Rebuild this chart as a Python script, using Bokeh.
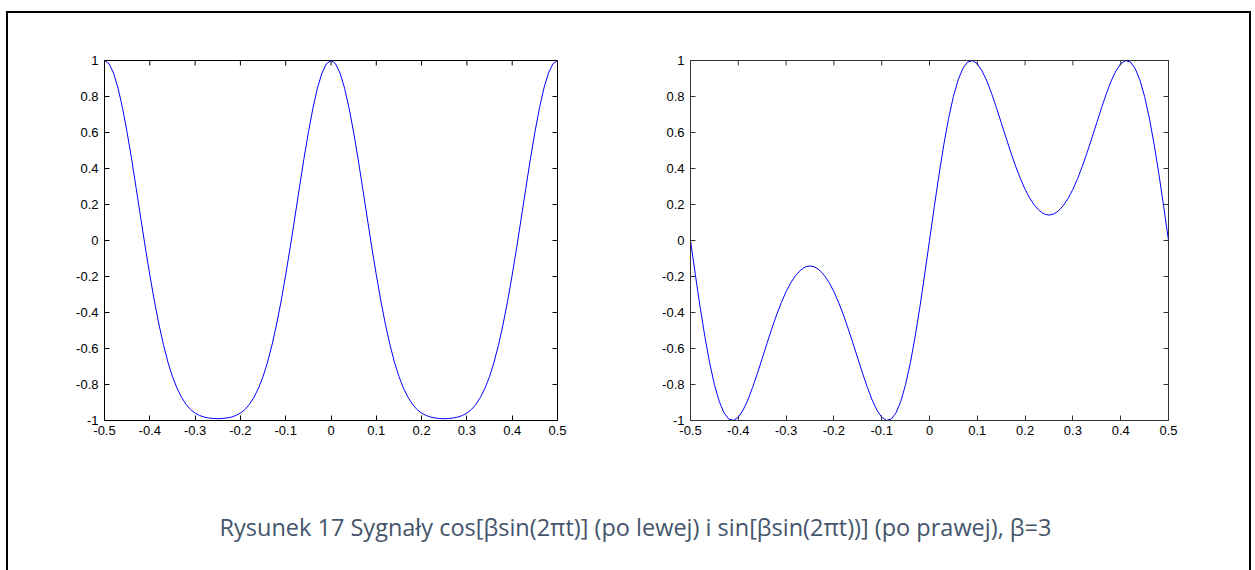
import math
from bokeh.plotting import figure
from bokeh.models import Range1d, FixedTicker, Label
from bokeh.layouts import column, row
from bokeh.embed import file_html
from bokeh.resources import INLINE

# sample times (t = -0.5 ... 0.5, step 0.01)
t = [round(k / 100, 2) for k in range(-50, 51)]

# left panel: cos[beta*sin(2*pi*t)]
y_left = [
    1.000, 0.982, 0.930, 0.846, 0.734, 0.600, 0.450, 0.289, 0.125, -0.037,
    -0.191, -0.335, -0.464, -0.578, -0.675, -0.756, -0.820, -0.871, -0.910, -0.939,
    -0.959, -0.972, -0.981, -0.986, -0.989, -0.990, -0.989, -0.986, -0.981, -0.972,
    -0.959, -0.939, -0.910, -0.871, -0.820, -0.756, -0.675, -0.578, -0.464, -0.335,
    -0.191, -0.037, 0.125, 0.289, 0.450, 0.600, 0.734, 0.846, 0.930, 0.982,
    1.000, 0.982, 0.930, 0.846, 0.734, 0.600, 0.450, 0.289, 0.125, -0.037,
    -0.191, -0.335, -0.464, -0.578, -0.675, -0.756, -0.820, -0.871, -0.910, -0.939,
    -0.959, -0.972, -0.981, -0.986, -0.989, -0.990, -0.989, -0.986, -0.981, -0.972,
    -0.959, -0.939, -0.910, -0.871, -0.820, -0.756, -0.675, -0.578, -0.464, -0.335,
    -0.191, -0.037, 0.125, 0.289, 0.450, 0.600, 0.734, 0.846, 0.930, 0.982,
    1.000,
]

# right panel: sin[beta*sin(2*pi*t)]
y_right = [
    0.000, -0.187, -0.367, -0.533, -0.679, -0.800, -0.893, -0.957, -0.992, -0.999,
    -0.982, -0.942, -0.886, -0.816, -0.738, -0.655, -0.572, -0.491, -0.414, -0.345,
    -0.284, -0.234, -0.194, -0.165, -0.147, -0.141, -0.147, -0.165, -0.194, -0.234,
    -0.284, -0.345, -0.414, -0.491, -0.572, -0.655, -0.738, -0.816, -0.886, -0.942,
    -0.982, -0.999, -0.992, -0.957, -0.893, -0.800, -0.679, -0.533, -0.367, -0.187,
    0.000, 0.187, 0.367, 0.533, 0.679, 0.800, 0.893, 0.957, 0.992, 0.999,
    0.982, 0.942, 0.886, 0.816, 0.738, 0.655, 0.572, 0.491, 0.414, 0.345,
    0.284, 0.234, 0.194, 0.165, 0.147, 0.141, 0.147, 0.165, 0.194, 0.234,
    0.284, 0.345, 0.414, 0.491, 0.572, 0.655, 0.738, 0.816, 0.886, 0.942,
    0.982, 0.999, 0.992, 0.957, 0.893, 0.800, 0.679, 0.533, 0.367, 0.187,
    0.000,
]

x_ticks = [-0.5, -0.4, -0.3, -0.2, -0.1, 0.0, 0.1, 0.2, 0.3, 0.4, 0.5]
x_tick_labels = ["-0.5", "-0.4", "-0.3", "-0.2", "-0.1", "0", "0.1", "0.2", "0.3", "0.4", "0.5"]
y_ticks = [-1.0, -0.8, -0.6, -0.4, -0.2, 0.0, 0.2, 0.4, 0.6, 0.8, 1.0]
y_tick_labels = ["-1", "-0.8", "-0.6", "-0.4", "-0.2", "0", "0.2", "0.4", "0.6", "0.8", "1"]

caption = "Rysunek 17 Sygnały cos[βsin(2πt)] (po lewej) i sin[βsin(2πt))] (po prawej), β=3"

TICK_FONT = "Liberation Sans"


def make_panel(x, y, width, height, mbl, mbr, mbt, mbb, axis_color):
    xr = Range1d(-0.5, 0.5)
    yr = Range1d(-1, 1)
    p = figure(width=width, height=height, x_range=xr, y_range=yr,
               output_backend="svg", toolbar_location=None,
               min_border_left=mbl, min_border_right=mbr,
               min_border_top=mbt, min_border_bottom=mbb)
    p.line(x, y, line_color="#0000FF", line_width=1)
    p.grid.visible = False
    p.outline_line_color = axis_color
    p.outline_line_width = 1
    p.outline_line_alpha = 1
    p.background_fill_color = "white"
    p.border_fill_color = "white"

    p.xaxis.ticker = FixedTicker(ticks=x_ticks)
    p.xaxis.major_label_overrides = dict(zip(x_ticks, x_tick_labels))
    p.yaxis.ticker = FixedTicker(ticks=y_ticks)
    p.yaxis.major_label_overrides = dict(zip(y_ticks, y_tick_labels))

    for ax in p.axis:
        ax.axis_line_color = axis_color
        ax.major_tick_line_color = axis_color
        ax.major_tick_in = 5
        ax.major_tick_out = 0
        ax.minor_tick_line_color = None
        ax.major_label_text_font = TICK_FONT
        ax.major_label_text_font_size = "13px"
        ax.major_label_text_color = "black"
    p.xaxis.major_label_standoff = 5
    p.yaxis.major_label_standoff = 6

    # inward tick marks on the top and right edges of the box (clipped to the frame)
    p.scatter(x_ticks, [yr.end] * len(x_ticks), marker="dash", angle=math.pi / 2,
              size=10, line_color=axis_color, line_width=1)
    p.scatter([xr.end] * len(y_ticks), y_ticks, marker="dash", angle=0,
              size=10, line_color=axis_color, line_width=1)
    return p


p1 = make_panel(t, y_left, 620, 450, 96, 71, 44, 43, "black")
p2 = make_panel(t, y_right, 621, 450, 62, 81, 47, 42, "#333333")

p3 = figure(width=1241, height=107, x_range=Range1d(0, 1241), y_range=Range1d(0, 107),
            output_backend="svg", toolbar_location=None,
            x_axis_location=None, y_axis_location=None,
            min_border=0, min_border_left=0, min_border_right=0,
            min_border_top=0, min_border_bottom=0)
p3.grid.visible = False
p3.outline_line_color = None
p3.add_layout(Label(x=627, y=44, text=caption, text_align="center", text_baseline="middle",
                    text_font="Open Sans", text_font_size="23.5px", text_color="#44546A"))

layout = column(row(p1, p2), p3,
                styles={"border-left": "2px solid black", "border-top": "2px solid black",
                        "border-right": "2px solid black"},
                margin=(11, 0, 0, 6))

open("out.html", "w").write(file_html(layout, INLINE))
